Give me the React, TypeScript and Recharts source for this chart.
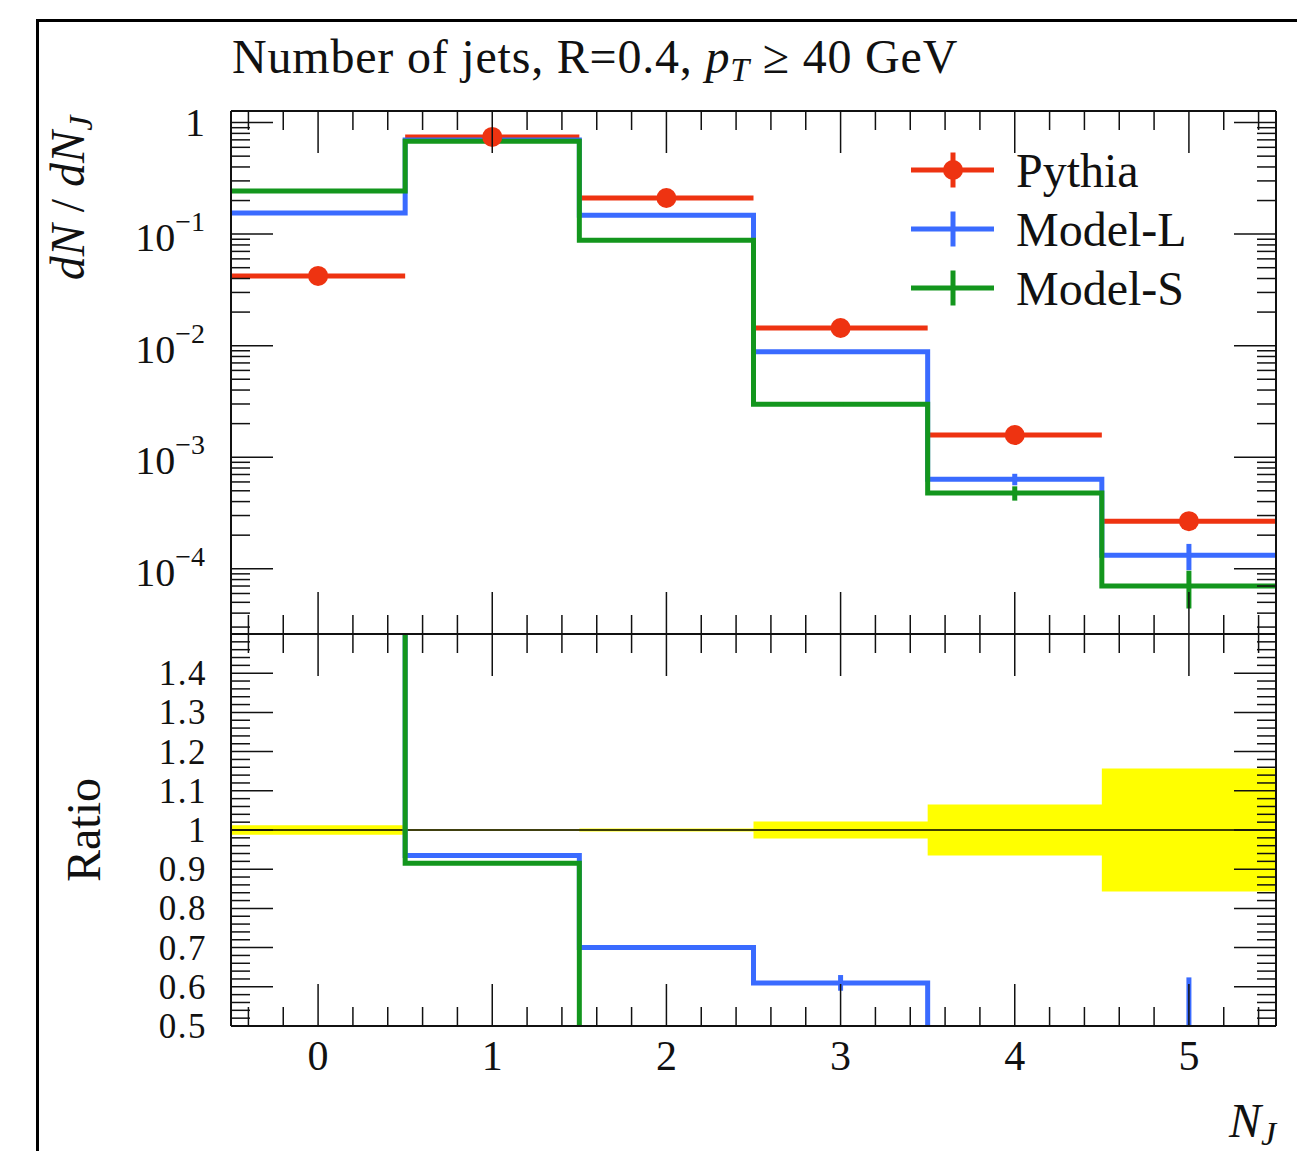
import React from "react";
import {
  ComposedChart,
  Line,
  Scatter,
  Area,
  XAxis,
  YAxis,
  ErrorBar,
  ReferenceLine,
} from "recharts";

// bins of the jet multiplicity
const binEdges = [-0.5, 0.5, 1.5, 2.5, 3.5, 4.5, 5.5];
const nJets = [0, 1, 2, 3, 4, 5];
const xTickLabels = ["0", "1", "2", "3", "4", "5"];

// dN/dN_J
const pythia = [0.0422, 0.744, 0.211, 0.0144, 0.00158, 0.000267];
const pythiaRelErr = [0.012, 0.002, 0.004, 0.022, 0.065, 0.157];
const modelL = [0.155, 0.697, 0.148, 0.0088, 0.000635, 0.000132];
const modelLErr = [0, 0, 0, 0.0002, 0.000075, 0.000035];
const modelS = [0.244, 0.681, 0.0883, 0.00299, 0.000478, 0.00007];
const modelSErr = [0, 0, 0, 0.0001, 0.00007, 0.000026];

// ratio to Pythia (off-scale bins estimated)
const ratioL = [3.67, 0.935, 0.7, 0.61, 0.4, 0.494];
const ratioLErr = [0, 0, 0, 0.02, 0.047, 0.13];
const ratioS = [5.78, 0.915, 0.42, 0.21, 0.3, 0.26];

const upperTickValues = [1, 0.1, 0.01, 0.001, 0.0001];
const upperTickExps = ["", "−1", "−2", "−3", "−4"];
const ratioTickValues = [0.5, 0.6, 0.7, 0.8, 0.9, 1, 1.1, 1.2, 1.3, 1.4];
const ratioTickLabels = ["0.5", "0.6", "0.7", "0.8", "0.9", "1", "1.1", "1.2", "1.3", "1.4"];

const seriesNames = ["Pythia", "Model-L", "Model-S"];
const seriesColors = ["#ee3311", "#3a6bff", "#13961d"];

const UPPER_DOMAIN: [number, number] = [2.6e-5, 1.27];
const RATIO_DOMAIN: [number, number] = [0.5, 1.5];
const X_DOMAIN: [number, number] = [-0.5, 5.5];

const FONT = "'Liberation Serif', 'Times New Roman', serif";
const INK = "#111";
const MAJOR = 42;
const MINOR = 19;

const last = nJets.length - 1;
const upperSteps = binEdges.map((x, i) => ({
  x,
  L: modelL[Math.min(i, last)],
  S: modelS[Math.min(i, last)],
}));
const ratioSteps = binEdges.map((x, i) => {
  const j = Math.min(i, last);
  return {
    x,
    L: ratioL[j],
    S: ratioS[j],
    band: [1 - pythiaRelErr[j], 1 + pythiaRelErr[j]],
  };
});
const pythiaPoints = nJets.map((x, i) => ({ x, y: pythia[i], xerr: 0.5 }));
const modelLPoints = nJets.map((x, i) => ({ x, y: modelL[i], err: modelLErr[i] }));
const modelSPoints = nJets.map((x, i) => ({ x, y: modelS[i], err: modelSErr[i] }));
// ratio error bars as two-point vertical segments so they get clipped to the panel
const ratioLBars = nJets
  .map((x, i) => ({ x, lo: ratioL[i] - ratioLErr[i], hi: ratioL[i] + ratioLErr[i], e: ratioLErr[i] }))
  .filter((b) => b.e > 0)
  .map((b) => [
    { x: b.x, v: b.lo },
    { x: b.x, v: b.hi },
  ]);

// tick positions (majors + minors)
const xTicks = Array.from({ length: 30 }, (_, k) => Math.round((-0.4 + 0.2 * k) * 10) / 10);
const logTicks: number[] = [];
for (let e = -5; e <= 0; e++) {
  for (let m = 1; m <= 9; m++) {
    const v = m * Math.pow(10, e);
    if (v >= UPPER_DOMAIN[0] && v <= UPPER_DOMAIN[1]) logTicks.push(v);
  }
}
const ratioTicks = Array.from({ length: 50 }, (_, k) => Math.round((0.5 + 0.02 * k) * 100) / 100);

const isMajorX = (v: number) => Math.abs(v - Math.round(v)) < 1e-6;
const isMajorRatio = (v: number) => Math.abs(v * 10 - Math.round(v * 10)) < 1e-6;
const logIndex = (v: number) => upperTickValues.findIndex((t) => Math.abs(t - v) / t < 1e-6);

type Side = "left" | "right" | "top" | "bottom";

function makeTick(
  side: Side,
  isMajor: (v: number) => boolean,
  label?: (v: number, x: number, y: number) => React.ReactNode
) {
  return (props: any) => {
    const x = props.x ?? 0;
    const y = props.y ?? 0;
    const v = props.payload?.value ?? 0;
    const len = isMajor(v) ? MAJOR : MINOR;
    let x2 = x;
    let y2 = y;
    if (side === "left") x2 = x + len;
    if (side === "right") x2 = x - len;
    if (side === "top") y2 = y + len;
    if (side === "bottom") y2 = y - len;
    return (
      <g>
        <line x1={x} y1={y} x2={x2} y2={y2} stroke={INK} strokeWidth={1.5} />
        {label ? label(v, x, y) : null}
      </g>
    );
  };
}

const upperLeftLabel = (v: number, x: number, y: number) => {
  const i = logIndex(v);
  if (i < 0) return null;
  if (upperTickExps[i] === "") {
    return (
      <text x={x - 26} y={y + 13} textAnchor="end" fontSize={40} fontFamily={FONT} fill={INK}>
        1
      </text>
    );
  }
  return (
    <text x={x - 26} y={y + 17} textAnchor="end" fontSize={40} fontFamily={FONT} fill={INK}>
      10
      <tspan dy={-20} fontSize={28}>
        {upperTickExps[i]}
      </tspan>
    </text>
  );
};

const ratioLeftLabel = (v: number, x: number, y: number) => {
  const i = ratioTickValues.findIndex((t) => Math.abs(t - v) < 1e-6);
  if (i < 0) return null;
  return (
    <text
      x={x - 24}
      y={y + 12}
      textAnchor="end"
      fontSize={35}
      letterSpacing={1.5}
      fontFamily={FONT}
      fill={INK}
    >
      {ratioTickLabels[i]}
    </text>
  );
};

const xBottomLabel = (v: number, x: number, y: number) => {
  const i = nJets.findIndex((t) => Math.abs(t - v) < 1e-6);
  if (i < 0) return null;
  return (
    <text x={x} y={y + 44} textAnchor="middle" fontSize={42} fontFamily={FONT} fill={INK}>
      {xTickLabels[i]}
    </text>
  );
};

const isMajorLog = (v: number) => logIndex(v) >= 0;
const axisLine = { stroke: INK, strokeWidth: 2 };
const noShape = () => <g />;

function xAxes(withLabels: boolean) {
  return [
    <XAxis
      key="bottom"
      type="number"
      dataKey="x"
      domain={X_DOMAIN}
      allowDataOverflow
      ticks={xTicks}
      interval={0}
      height={30}
      tickSize={0}
      tickMargin={0}
      tickLine={false}
      axisLine={axisLine}
      tick={makeTick("bottom", isMajorX, withLabels ? xBottomLabel : undefined)}
    />,
    <XAxis
      key="top"
      xAxisId="top"
      orientation="top"
      type="number"
      dataKey="x"
      domain={X_DOMAIN}
      allowDataOverflow
      ticks={xTicks}
      interval={0}
      height={30}
      tickSize={0}
      tickMargin={0}
      tickLine={false}
      axisLine={axisLine}
      tick={makeTick("top", isMajorX)}
    />,
  ];
}

function UpperPanel() {
  return (
    <ComposedChart
      width={1297}
      height={664}
      data={upperSteps}
      margin={{ top: 81, right: 0, bottom: 0, left: 0 }}
    >
      {xAxes(false)}
      <YAxis
        type="number"
        scale="log"
        domain={UPPER_DOMAIN}
        allowDataOverflow
        ticks={logTicks}
        interval={0}
        width={231}
        tickSize={0}
        tickMargin={0}
        tickLine={false}
        axisLine={axisLine}
        tick={makeTick("left", isMajorLog, upperLeftLabel)}
      />
      <YAxis
        yAxisId="right"
        orientation="right"
        type="number"
        scale="log"
        domain={UPPER_DOMAIN}
        allowDataOverflow
        ticks={logTicks}
        interval={0}
        width={21}
        tickSize={0}
        tickMargin={0}
        tickLine={false}
        axisLine={axisLine}
        tick={makeTick("right", isMajorLog)}
      />
      <Scatter
        data={pythiaPoints}
        dataKey="y"
        fill={seriesColors[0]}
        isAnimationActive={false}
        shape={(p: any) => <circle cx={p.cx} cy={p.cy} r={10} fill={seriesColors[0]} />}
      >
        <ErrorBar dataKey="xerr" direction="x" width={0} stroke={seriesColors[0]} strokeWidth={5} />
      </Scatter>
      <Line
        dataKey="L"
        type="stepAfter"
        stroke={seriesColors[1]}
        strokeWidth={5}
        strokeLinejoin="miter"
        dot={false}
        activeDot={false}
        isAnimationActive={false}
      />
      <Scatter data={modelLPoints} dataKey="y" isAnimationActive={false} shape={noShape}>
        <ErrorBar dataKey="err" direction="y" width={0} stroke={seriesColors[1]} strokeWidth={5} />
      </Scatter>
      <Line
        dataKey="S"
        type="stepAfter"
        stroke={seriesColors[2]}
        strokeWidth={5}
        strokeLinejoin="miter"
        dot={false}
        activeDot={false}
        isAnimationActive={false}
      />
      <Scatter data={modelSPoints} dataKey="y" isAnimationActive={false} shape={noShape}>
        <ErrorBar dataKey="err" direction="y" width={0} stroke={seriesColors[2]} strokeWidth={5} />
      </Scatter>
    </ComposedChart>
  );
}

function RatioPanel() {
  return (
    <ComposedChart
      width={1297}
      height={547}
      data={ratioSteps}
      margin={{ top: 0, right: 0, bottom: 95, left: 0 }}
    >
      {xAxes(true)}
      <YAxis
        type="number"
        domain={RATIO_DOMAIN}
        allowDataOverflow
        ticks={ratioTicks}
        interval={0}
        width={231}
        tickSize={0}
        tickMargin={0}
        tickLine={false}
        axisLine={axisLine}
        tick={makeTick("left", isMajorRatio, ratioLeftLabel)}
      />
      <YAxis
        yAxisId="right"
        orientation="right"
        type="number"
        domain={RATIO_DOMAIN}
        allowDataOverflow
        ticks={ratioTicks}
        interval={0}
        width={21}
        tickSize={0}
        tickMargin={0}
        tickLine={false}
        axisLine={axisLine}
        tick={makeTick("right", isMajorRatio)}
      />
      <Area
        dataKey="band"
        type="stepAfter"
        fill="#ffff00"
        fillOpacity={1}
        stroke="none"
        dot={false}
        activeDot={false}
        isAnimationActive={false}
      />
      <ReferenceLine y={1} stroke="#000" strokeWidth={1.5} />
      <Line
        dataKey="L"
        type="stepAfter"
        stroke={seriesColors[1]}
        strokeWidth={5}
        strokeLinejoin="miter"
        dot={false}
        activeDot={false}
        isAnimationActive={false}
      />
      {ratioLBars.map((seg, i) => (
        <Line
          key={`errL${i}`}
          data={seg}
          dataKey="v"
          type="linear"
          stroke={seriesColors[1]}
          strokeWidth={5}
          dot={false}
          activeDot={false}
          isAnimationActive={false}
        />
      ))}
      <Line
        dataKey="S"
        type="stepAfter"
        stroke={seriesColors[2]}
        strokeWidth={5}
        strokeLinejoin="miter"
        dot={false}
        activeDot={false}
        isAnimationActive={false}
      />
    </ComposedChart>
  );
}

function Overlay() {
  const rows = [170, 229, 288];
  return (
    <svg
      width={1297}
      height={1151}
      style={{ position: "absolute", left: 0, top: 0, pointerEvents: "none" }}
      fontFamily={FONT}
    >
      <text x={232} y={73} fontSize={48} letterSpacing={0.8} fill={INK}>
        Number of jets, R=0.4,{" "}
        <tspan fontStyle="italic">p</tspan>
        <tspan fontStyle="italic" fontSize={34} dy={8}>
          T
        </tspan>
        <tspan dy={-8}> ≥ 40 GeV</tspan>
      </text>

      <text
        x={84}
        y={198}
        textAnchor="middle"
        fontSize={48}
        fill={INK}
        transform="rotate(-90 84 198)"
      >
        <tspan fontStyle="italic">dN</tspan> / <tspan fontStyle="italic">dN</tspan>
        <tspan fontStyle="italic" fontSize={34} dy={8}>
          J
        </tspan>
      </text>

      <text x={100} y={830} textAnchor="middle" fontSize={48} fill={INK} transform="rotate(-90 100 830)">
        Ratio
      </text>

      <text x={1276} y={1137} textAnchor="end" fontSize={48} fontStyle="italic" fill={INK}>
        N
        <tspan fontSize={34} dy={8}>
          J
        </tspan>
      </text>

      {seriesNames.map((name, i) => (
        <g key={name}>
          <line x1={911} y1={rows[i]} x2={994} y2={rows[i]} stroke={seriesColors[i]} strokeWidth={5} />
          <line x1={953} y1={rows[i] - 17.5} x2={953} y2={rows[i] + 17.5} stroke={seriesColors[i]} strokeWidth={5} />
          {i === 0 ? <circle cx={953} cy={rows[i]} r={10} fill={seriesColors[i]} /> : null}
          <text x={1016} y={rows[i] + 17} fontSize={48} fill={INK}>
            {name}
          </text>
        </g>
      ))}
    </svg>
  );
}

export default function App() {
  return (
    <div
      style={{
        position: "absolute",
        left: 0,
        top: 0,
        width: 1297,
        height: 1151,
        overflow: "hidden",
        background: "#fff",
      }}
    >
      <div
        style={{
          position: "absolute",
          left: 36,
          top: 19,
          width: 1400,
          height: 1300,
          border: "3px solid #000",
        }}
      />
      <div style={{ position: "absolute", left: 0, top: 0 }}>
        <UpperPanel />
      </div>
      <div style={{ position: "absolute", left: 0, top: 604 }}>
        <RatioPanel />
      </div>
      <Overlay />
    </div>
  );
}
